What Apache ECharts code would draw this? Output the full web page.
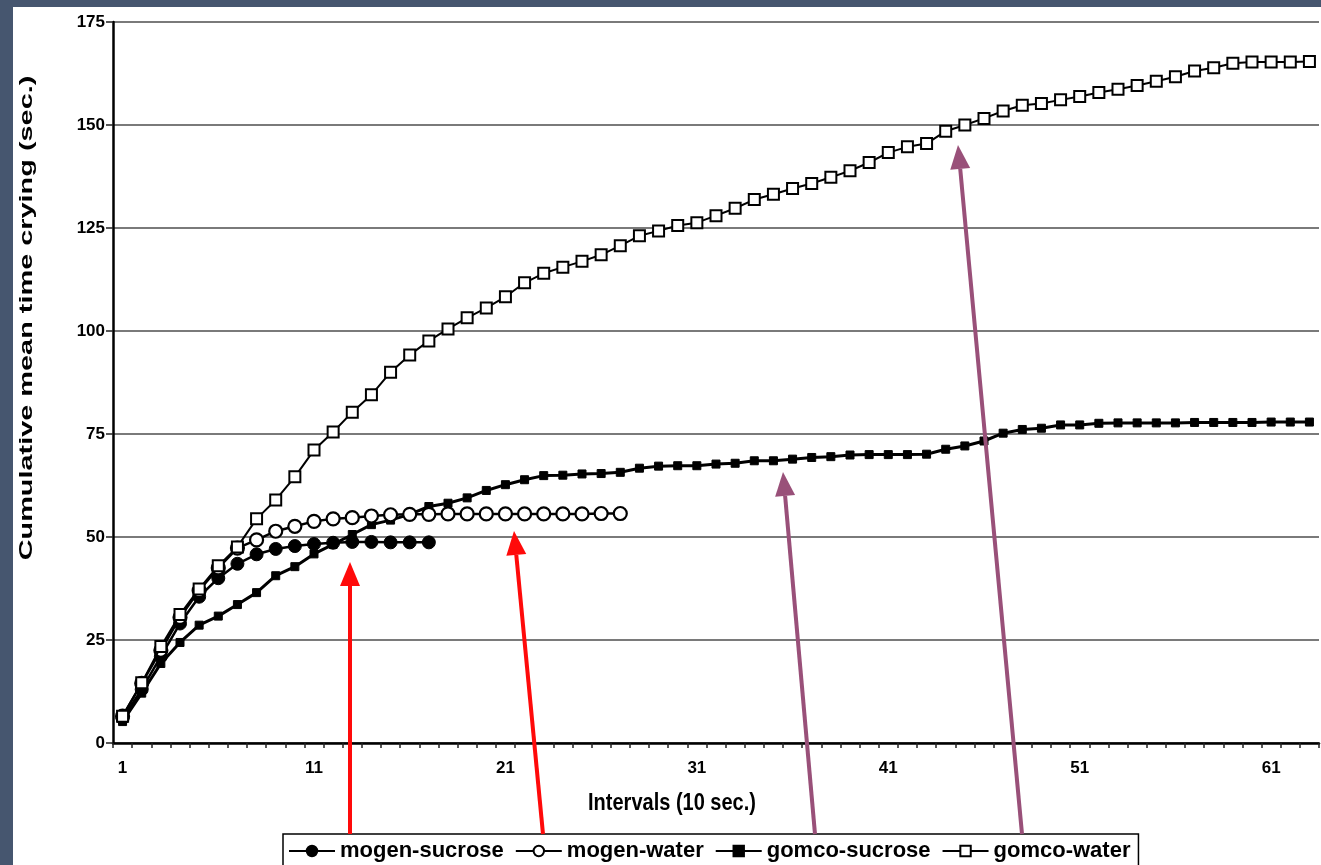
<!DOCTYPE html>
<html>
<head>
<meta charset="utf-8">
<script src="https://cdn.jsdelivr.net/npm/echarts@6/dist/echarts.min.js"></script>
<style>
  html, body { margin: 0; padding: 0; width: 1321px; height: 865px; overflow: hidden; background: #46566f; }
  #paper { position: absolute; left: 13px; top: 7px; right: 0; bottom: 0; background: #ffffff; }
  #chart { position: absolute; left: 0; top: 0; width: 1321px; height: 865px; }
</style>
</head>
<body>
<div id="paper"></div>
<div id="chart"></div>
<script>
// ---- data ----
const categories = ['1','2','3','4','5','6','7','8','9','10','11','12','13','14','15','16','17','18','19','20',
  '21','22','23','24','25','26','27','28','29','30','31','32','33','34','35','36','37','38','39','40',
  '41','42','43','44','45','46','47','48','49','50','51','52','53','54','55','56','57','58','59','60',
  '61','62','63'];

const mogenSucrose = [6.0, 13.0, 21.0, 29.0, 35.5, 40.0, 43.5, 45.8, 47.1, 47.8, 48.3, 48.6, 48.8, 48.8, 48.7, 48.7, 48.7];

const mogenWater = [6.5, 14.5, 22.5, 30.5, 37.0, 42.5, 47.3, 49.3, 51.4, 52.6, 53.8, 54.4, 54.7, 55.1, 55.4, 55.5,
  55.5, 55.6, 55.6, 55.6, 55.6, 55.6, 55.6, 55.6, 55.6, 55.7, 55.7];

const gomcoSucrose = [5.2, 12.1, 19.3, 24.4, 28.6, 30.8, 33.6, 36.5, 40.6, 42.8,
  45.9, 48.2, 50.6, 53.0, 54.1, 55.5, 57.4, 58.2, 59.5, 61.3,
  62.7, 63.9, 64.9, 65.0, 65.3, 65.4, 65.7, 66.7, 67.2, 67.3,
  67.3, 67.7, 67.9, 68.5, 68.5, 68.9, 69.3, 69.5, 69.9, 70.0,
  70.0, 70.0, 70.1, 71.3, 72.1, 73.3, 75.2, 76.1, 76.4, 77.2,
  77.2, 77.6, 77.7, 77.7, 77.7, 77.7, 77.8, 77.8, 77.8, 77.8, 77.9, 77.9, 77.9];

const gomcoWater = [6.5, 14.6, 23.4, 31.2, 37.4, 43.0, 47.6, 54.4, 59.0, 64.6,
  71.1, 75.5, 80.3, 84.5, 90.0, 94.2, 97.6, 100.5, 103.2, 105.6,
  108.3, 111.7, 114.0, 115.5, 116.9, 118.5, 120.7, 123.1, 124.3, 125.6,
  126.3, 128.0, 129.8, 131.9, 133.2, 134.6, 135.8, 137.3, 138.9, 140.9,
  143.3, 144.7, 145.5, 148.5, 150.0, 151.6, 153.4, 154.8, 155.2, 156.1,
  156.9, 157.9, 158.7, 159.6, 160.6, 161.7, 163.1, 163.9, 165.0, 165.3,
  165.3, 165.3, 165.4];

const seriesNames = ['mogen-sucrose', 'mogen-water', 'gomco-sucrose', 'gomco-water'];
const yTicks = { min: 0, max: 175, interval: 25 };

// ---- chart ----
const FONT = "'Liberation Sans', Arial, Helvetica, sans-serif";
const chart = echarts.init(document.getElementById('chart'), null, { renderer: 'canvas' });

function arrow(x1, y1, x2, y2, color) {
  const ang = Math.atan2(y2 - y1, x2 - x1);
  const L = 24, W = 10;
  const bx = x2 - L * Math.cos(ang), by = y2 - L * Math.sin(ang);
  const px = -Math.sin(ang), py = Math.cos(ang);
  return [
    { type: 'line', z: 100, shape: { x1: x1, y1: y1, x2: bx, y2: by }, style: { stroke: color, lineWidth: 4 } },
    { type: 'polygon', z: 100, shape: { points: [[x2, y2], [bx + px * W, by + py * W], [bx - px * W, by - py * W]] },
      style: { fill: color } }
  ];
}

const red = '#ff0a0a', mauve = '#995079';
const graphics = [].concat(
  arrow(350, 834, 350, 562, red),
  arrow(543, 834, 514, 531, red),
  arrow(815, 834, 783, 472, mauve),
  arrow(1022, 834, 958, 145, mauve),
  [{
    type: 'text', z: 50, x: 27, y: 318, rotation: Math.PI / 2, scaleX: 1.52, scaleY: 1,
    style: { text: 'Cumulative mean time crying (sec.)', fill: '#000', font: "bold 19px " + FONT,
      textAlign: 'center', textVerticalAlign: 'middle' }
  }, {
    type: 'text', z: 50, x: 672, y: 803, scaleX: 1, scaleY: 1.2,
    style: { text: 'Intervals (10 sec.)', fill: '#000', font: "bold 20px " + FONT,
      textAlign: 'center', textVerticalAlign: 'middle' }
  }]
);

const option = {
  backgroundColor: 'transparent',
  animation: false,
  grid: { left: 113, right: 2, top: 22, bottom: 122, containLabel: false },
  legend: {
    data: seriesNames,
    left: 283, top: 834,
    width: 880,
    itemWidth: 46, itemHeight: 13, itemGap: 11,
    padding: [6, 8, 8, 5],
    backgroundColor: '#fff',
    borderColor: '#000', borderWidth: 1.5,
    textStyle: { fontFamily: FONT, fontWeight: 'bold', fontSize: 22, color: '#000' },
    inactiveColor: '#999'
  },
  xAxis: {
    type: 'category',
    data: categories,
    boundaryGap: true,
    axisLine: { lineStyle: { color: '#000', width: 2.5 } },
    axisTick: { show: true, interval: 0, length: 5, lineStyle: { color: '#222', width: 1.5 } },
    axisLabel: { interval: 9, margin: 17, color: '#000', fontFamily: FONT, fontWeight: 'bold', fontSize: 17 },
    splitLine: { show: false }
  },
  yAxis: {
    type: 'value',
    min: yTicks.min, max: yTicks.max, interval: yTicks.interval,
    axisLine: { show: true, lineStyle: { color: '#000', width: 2.5 } },
    axisTick: { show: true, length: 7, lineStyle: { color: '#222', width: 1.5 } },
    axisLabel: { margin: 8, color: '#000', fontFamily: FONT, fontWeight: 'bold', fontSize: 17 },
    splitLine: { show: true, lineStyle: { color: '#7a7a7a', width: 2 } }
  },
  series: [
    {
      name: seriesNames[0], type: 'line', data: mogenSucrose, showAllSymbol: true,
      symbol: 'circle', symbolSize: 13,
      lineStyle: { color: '#000', width: 2.5 },
      itemStyle: { color: '#000', borderColor: '#000', borderWidth: 1 }, z: 3
    },
    {
      name: seriesNames[1], type: 'line', data: mogenWater, showAllSymbol: true,
      symbol: 'circle', symbolSize: 13,
      lineStyle: { color: '#000', width: 2.5 },
      itemStyle: { color: '#fff', borderColor: '#000', borderWidth: 2.2 }, z: 4
    },
    {
      name: seriesNames[2], type: 'line', data: gomcoSucrose, showAllSymbol: true,
      symbol: 'rect', symbolSize: 8,
      lineStyle: { color: '#000', width: 3 },
      itemStyle: { color: '#000', borderColor: '#000', borderWidth: 1 }, z: 2
    },
    {
      name: seriesNames[3], type: 'line', data: gomcoWater, showAllSymbol: true,
      symbol: 'rect', symbolSize: 11,
      lineStyle: { color: '#000', width: 2 },
      itemStyle: { color: '#fff', borderColor: '#000', borderWidth: 2 }, z: 5
    }
  ],
  graphic: graphics
};

chart.setOption(option);
</script>
</body>
</html>
